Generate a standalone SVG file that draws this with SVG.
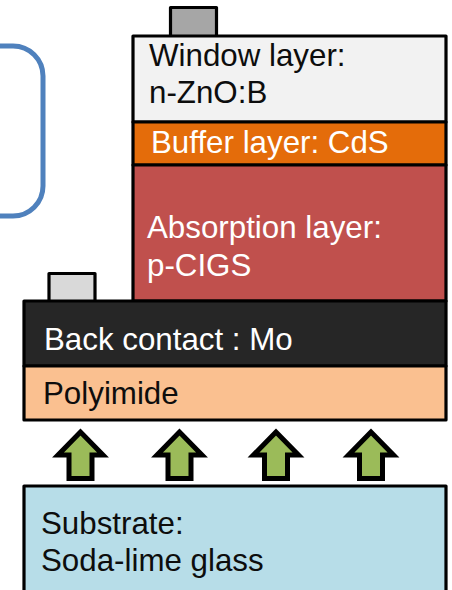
<svg xmlns="http://www.w3.org/2000/svg" width="452" height="590" viewBox="0 0 452 590">
<style>
.l{stroke:#000;stroke-width:3.2;stroke-linejoin:round}
.a{fill:#9bbb59;stroke:#000;stroke-width:5;stroke-linejoin:miter}
text{font-family:"Liberation Sans",Arial,sans-serif;font-size:31.3px}
.w{fill:#fff}.k{fill:#0d0d0d}
</style>
<defs><path id="arr" class="a" d="M0 -46.500L-22.500 -23.500H-11.500V0H11.500V-23.500H22.500Z"/></defs>
<rect width="452" height="590" fill="#fff"/>
<g id="blue-box"><rect x="-60" y="46" width="103" height="170" rx="30" ry="30" fill="#fff" stroke="#4f81bd" stroke-width="5"/></g>
<g id="top-contact"><rect class="l" x="170.500" y="7.500" width="46" height="29" fill="#a6a6a6"/></g>
<g id="bottom-contact"><rect class="l" x="49" y="273.500" width="46" height="29" fill="#d9d9d9"/></g>
<g id="window"><rect class="l" x="133" y="36" width="313" height="86" fill="#f2f2f2"/>
<text class="k" x="149" y="66">Window layer:</text><text class="k" x="149" y="103">n-ZnO:B</text></g>
<g id="buffer"><rect class="l" x="133" y="122" width="313" height="43" fill="#e46c0a"/>
<text class="w" x="151" y="153">Buffer layer: CdS</text></g>
<g id="absorption"><rect class="l" x="133" y="165" width="313" height="136" fill="#c0504d"/>
<text class="w" x="147" y="238">Absorption layer:</text><text class="w" x="147" y="276">p-CIGS</text></g>
<g id="back-contact"><rect class="l" x="24" y="301" width="422" height="65" fill="#262626"/>
<text class="w" x="44" y="350">Back contact : Mo</text></g>
<g id="polyimide"><rect class="l" x="24" y="366" width="422" height="54" fill="#fac090"/>
<text class="k" x="43" y="404">Polyimide</text></g>
<g id="substrate"><rect class="l" x="24" y="486" width="422" height="130" fill="#b7dde8"/>
<text class="k" x="41" y="534">Substrate:</text><text class="k" x="41" y="571">Soda-lime glass</text></g>
<g id="connectors">
<use href="#arr" x="80.500" y="478.500"/>
<use href="#arr" x="179.500" y="478.500"/>
<use href="#arr" x="276" y="478.500"/>
<use href="#arr" x="371" y="478.500"/>
</g>
</svg>
